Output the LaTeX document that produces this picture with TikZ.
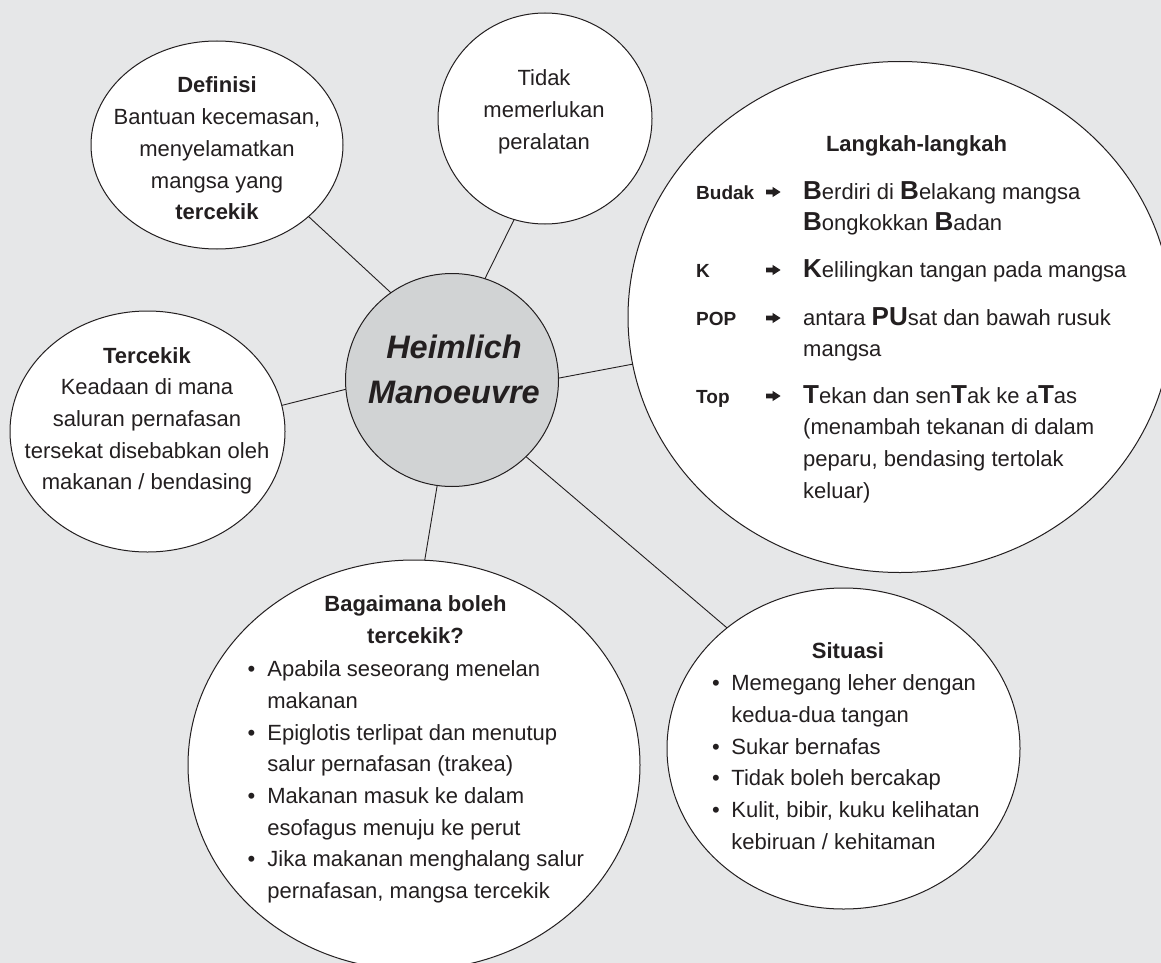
\documentclass[tikz,border=0pt]{standalone}
\usepackage{fontspec}
\setmainfont{Liberation Sans}
\usetikzlibrary{shapes.geometric}

\definecolor{fond}{HTML}{E6E7E8}
\definecolor{moyeu}{HTML}{D1D3D4}
\definecolor{encre}{HTML}{231F20}

\newcommand{\grand}[1]{{\bfseries\fontsize{26}{26}\selectfont #1}}

\tikzset{
  bulle/.style={ellipse, draw=encre, line width=1pt, fill=white, inner sep=0pt, outer sep=0pt},
  texte/.style={font=\fontsize{22}{31.7}\selectfont, text=encre, inner sep=0pt},
  lien/.style={draw=encre, line width=0.9pt},
}

\begin{document}
\begin{tikzpicture}[x=1pt, y=-1pt]
  % Fond
  \fill[fond] (0,0) rectangle (1161,963);
  \useasboundingbox (0,0) rectangle (1161,963);
  \clip (0,0) rectangle (1161,963);

  % Bulles
  \node[bulle, minimum width=252pt, minimum height=208pt] (definisi) at (217,145) {};
  \node[bulle, minimum width=214pt, minimum height=211pt] (tidak) at (545,118.5) {};
  \node[bulle, minimum width=544pt, minimum height=511pt] (langkah) at (900,317) {};
  \node[bulle, minimum width=275pt, minimum height=241pt] (tercekik) at (147.5,431.5) {};
  \node[bulle, minimum width=452pt, minimum height=410pt] (bagaimana) at (414,765) {};
  \node[bulle, minimum width=353pt, minimum height=321pt] (situasi) at (843.5,748.5) {};
  \node[bulle, fill=moyeu, minimum width=213pt, minimum height=213pt] (heimlich) at (452,380) {};

  % Liens
  \foreach \a/\b/\c in {125.6/definisi/322, 72.7/tidak/253.5, 1/langkah/190.3,
                        185.3/tercekik/11.6, 262.5/bagaimana/87, 314.2/situasi/134}
    \draw[lien] (heimlich.\a) -- (\b.\c);

  % Textes
  \node[texte, anchor=base, font=\fontsize{32.5}{45}\selectfont\bfseries\itshape] (heimlich-txt) at (454,358)
    {\begin{tabular}[t]{@{}c@{}}Heimlich\\Manoeuvre\end{tabular}};

  \node[texte, anchor=base] (definisi-txt) at (217,93)
    {\begin{tabular}[t]{@{}c@{}}\textbf{Definisi}\\Bantuan kecemasan,\\menyelamatkan\\mangsa yang\\\textbf{tercekik}\end{tabular}};

  \node[texte, anchor=base] (tidak-txt) at (544,86)
    {\begin{tabular}[t]{@{}c@{}}Tidak\\memerlukan\\peralatan\end{tabular}};

  \node[texte, anchor=base] (tercekik-txt) at (147,363)
    {\begin{tabular}[t]{@{}c@{}}\textbf{Tercekik}\\Keadaan di mana\\saluran pernafasan\\tersekat disebabkan oleh\\makanan / bendasing\end{tabular}};

  \node[texte, anchor=base] (langkah-titre) at (916.5,151.7) {\textbf{Langkah-langkah}};
  \foreach \yb/\cle/\detail [count=\i] in {
      199/Budak/{\grand{B}erdiri di \grand{B}elakang mangsa\\\grand{B}ongkokkan \grand{B}adan},
      277/K/{\grand{K}elilingkan tangan pada mangsa},
      325/POP/{antara \grand{PU}sat dan bawah rusuk\\mangsa},
      403/Top/{\grand{T}ekan dan sen\grand{T}ak ke a\grand{T}as\\(menambah tekanan di dalam\\peparu, bendasing tertolak\\keluar)}} {
    \node[texte, anchor=base west, font=\fontsize{19}{22}\selectfont\bfseries] (cle\i) at (696,\yb) {\cle};
    % fleche pleine
    \fill[encre] (766,\yb-9.3) -- (772.5,\yb-9.3) -- (772.5,\yb-12.2) -- (780.6,\yb-7)
      -- (772.5,\yb-1.8) -- (772.5,\yb-4.7) -- (766,\yb-4.7) -- cycle;
    \node[texte, anchor=base west] (etape\i) at (803,\yb) {\begin{tabular}[t]{@{}l@{}}\detail\end{tabular}};
  }

  \node[texte, anchor=base] (bagaimana-titre) at (415.5,611.7)
    {\begin{tabular}[t]{@{}c@{}}\textbf{Bagaimana boleh}\\\textbf{tercekik?}\end{tabular}};
  \node[texte, anchor=base west] (bagaimana-liste) at (247.5,676.7)
    {\begin{tabular}[t]{@{}l@{\hspace{12pt}}l@{}}
      • & Apabila seseorang menelan\\ & makanan\\
      • & Epiglotis terlipat dan menutup\\ & salur pernafasan (trakea)\\
      • & Makanan masuk ke dalam\\ & esofagus menuju ke perut\\
      • & Jika makanan menghalang salur\\ & pernafasan, mangsa tercekik
    \end{tabular}};

  \node[texte, anchor=base] (situasi-titre) at (848,658) {\textbf{Situasi}};
  \node[texte, anchor=base west] (situasi-liste) at (712,690.7)
    {\begin{tabular}[t]{@{}l@{\hspace{11.5pt}}l@{}}
      • & Memegang leher dengan\\ & kedua-dua tangan\\
      • & Sukar bernafas\\
      • & Tidak boleh bercakap\\
      • & Kulit, bibir, kuku kelihatan\\ & kebiruan / kehitaman
    \end{tabular}};
\end{tikzpicture}
\end{document}
